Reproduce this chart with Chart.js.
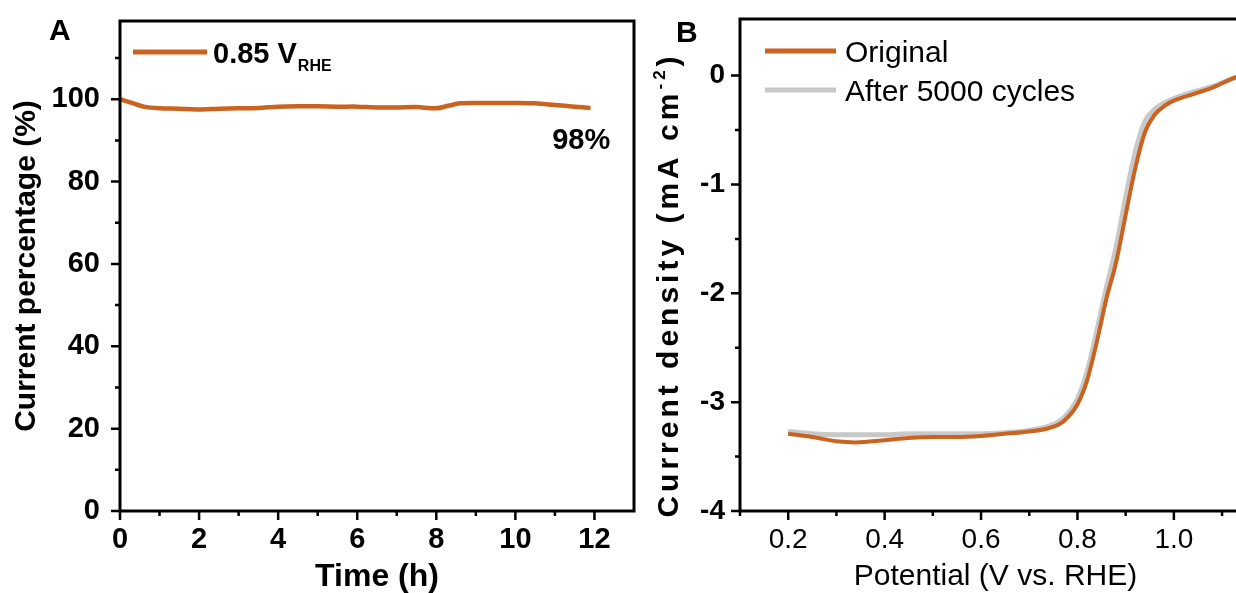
<!DOCTYPE html>
<html lang="en">
<head>
<meta charset="UTF-8">
<script src="https://cdn.jsdelivr.net/npm/chart.js"></script>
<style>
  html, body { margin: 0; padding: 0; background: #fff; overflow: hidden; width: 1236px; height: 593px; }
  .panel { position: absolute; top: 0; }
  #panelA { left: 0; }
  #panelB { left: 640px; }
</style>
</head>
<body>
<div class="panel" id="panelA"><canvas id="chartA" width="660" height="600"></canvas></div>
<div class="panel" id="panelB"><canvas id="chartB" width="620" height="600"></canvas></div>
<script>
// Panel A: chronoamperometry at 0.85 V
const timeH = [0, 0.3, 0.6, 1.0, 1.5, 2.0, 2.5, 3.0, 3.5, 4.0, 4.5, 5.0, 5.5, 6.0, 6.5, 7.0, 7.5, 8.0, 8.3, 8.6, 9.0, 9.5, 10.0, 10.5, 11.0, 11.5, 11.9];
const currentPct = [100, 99.1, 98.2, 97.8, 97.7, 97.5, 97.7, 97.8, 97.9, 98.2, 98.3, 98.3, 98.2, 98.2, 98.0, 98.0, 98.1, 97.8, 98.4, 99.0, 99.1, 99.1, 99.1, 99.0, 98.6, 98.2, 97.9];
const timeTicks = [0, 2, 4, 6, 8, 10, 12];
const percentTicks = [0, 20, 40, 60, 80, 100];
const legendA = '0.85 V';
const legendASub = 'RHE';
const endLabel = '98%';

// Panel B: LSV before / after cycling
const potentialV = [0.20, 0.25, 0.30, 0.34, 0.40, 0.45, 0.50, 0.55, 0.60, 0.65, 0.70, 0.74, 0.77, 0.80, 0.82, 0.84, 0.86, 0.88, 0.90, 0.92, 0.94, 0.96, 0.98, 1.00, 1.04, 1.08, 1.12, 1.14];
const densityOriginal = [-3.29, -3.32, -3.36, -3.37, -3.35, -3.33, -3.32, -3.32, -3.31, -3.29, -3.27, -3.24, -3.18, -3.02, -2.80, -2.45, -2.05, -1.72, -1.28, -0.85, -0.52, -0.36, -0.28, -0.23, -0.17, -0.11, -0.03, 0.0];
const densityCycled = [-3.27, -3.29, -3.30, -3.30, -3.30, -3.29, -3.29, -3.29, -3.29, -3.28, -3.26, -3.22, -3.15, -2.97, -2.72, -2.35, -1.95, -1.58, -1.12, -0.70, -0.42, -0.31, -0.25, -0.21, -0.15, -0.10, -0.03, 0.0];
const potentialTicks = [0.2, 0.4, 0.6, 0.8, 1.0];
const densityTicks = [-4, -3, -2, -1, 0];
const seriesNames = ['Original', 'After 5000 cycles'];

const orange = '#C9631F';
const gray = '#C8C8C8';
const FONT = '"Liberation Sans", Arial, sans-serif';
Chart.defaults.font.family = FONT;
Chart.defaults.color = '#000';

// box around the plot plus major / minor tick marks pointing outwards
const framePlugin = {
  id: 'frame',
  afterDraw(chart) {
    const {ctx, chartArea: a, scales: {x, y}} = chart;
    ctx.save();
    ctx.strokeStyle = '#000';
    ctx.lineWidth = 3;
    ctx.strokeRect(a.left, a.top, a.right - a.left, a.bottom - a.top);
    ctx.lineWidth = 2.5;
    const marks = (scale, draw) => {
      const vals = scale.ticks.map(t => t.value);
      const half = (vals[1] - vals[0]) / 2;
      for (let k = -2; k <= vals.length * 2 + 2; k++) {
        const v = Math.round((vals[0] + k * half) * 1000) / 1000;
        if (v < scale.min - 1e-6 || v > scale.max - 1e-6) continue;
        const p = scale.getPixelForValue(v);
        const major = k % 2 === 0;
        // skip minor marks that would sit right against the frame
        if (!major && Math.min(Math.abs(p - scale.top), Math.abs(p - scale.bottom)) < 6 && !scale.isHorizontal()) continue;
        draw(p, major ? 9 : 5);
      }
    };
    ctx.beginPath();
    marks(x, (px, len) => { ctx.moveTo(px, a.bottom); ctx.lineTo(px, a.bottom + len); });
    marks(y, (py, len) => { ctx.moveTo(a.left, py); ctx.lineTo(a.left - len, py); });
    ctx.stroke();
    ctx.restore();
  }
};

const extrasA = {
  id: 'extrasA',
  afterDraw(chart) {
    const {ctx, scales: {x, y}} = chart;
    ctx.save();
    ctx.fillStyle = '#000';
    ctx.font = 'bold 30px ' + FONT;
    ctx.fillText('A', 49, 40);
    ctx.strokeStyle = orange;
    ctx.lineWidth = 5;
    ctx.beginPath();
    ctx.moveTo(133, 52);
    ctx.lineTo(207, 52);
    ctx.stroke();
    ctx.font = 'bold 29px ' + FONT;
    ctx.fillText(legendA, 213, 63);
    const w = ctx.measureText(legendA).width;
    ctx.font = 'bold 16px ' + FONT;
    ctx.fillText(legendASub, 213 + w + 1, 71);
    ctx.font = 'bold 29px ' + FONT;
    ctx.textAlign = 'right';
    ctx.fillText(endLabel, x.getPixelForValue(12.4), y.getPixelForValue(88));
    ctx.restore();
  }
};

const extrasB = {
  id: 'extrasB',
  afterDraw(chart) {
    const {ctx} = chart;
    ctx.save();
    ctx.fillStyle = '#000';
    ctx.font = 'bold 30px ' + FONT;
    ctx.fillText('B', 36, 42);
    // legend
    [[orange, 51, seriesNames[0]], [gray, 90, seriesNames[1]]].forEach(([c, yy, t]) => {
      ctx.strokeStyle = c;
      ctx.lineWidth = 5;
      ctx.beginPath();
      ctx.moveTo(125, yy);
      ctx.lineTo(196, yy);
      ctx.stroke();
      ctx.font = '30px ' + FONT;
      ctx.fillText(t, 205, yy + 11);
    });
    // rotated y title with superscript
    ctx.translate(30, 285);
    ctx.rotate(-Math.PI / 2);
    ctx.letterSpacing = '4px';
    const main = 'Current density (mA cm';
    ctx.font = 'bold 30px ' + FONT;
    const w1 = ctx.measureText(main).width;
    const w3 = ctx.measureText(')').width;
    ctx.font = 'bold 17px ' + FONT;
    const w2 = ctx.measureText('-2').width;
    let x0 = -(w1 + w2 + w3) / 2;
    ctx.textBaseline = 'middle';
    ctx.font = 'bold 30px ' + FONT;
    ctx.fillText(main, x0, 0);
    ctx.font = 'bold 17px ' + FONT;
    ctx.fillText('-2', x0 + w1, -10);
    ctx.font = 'bold 30px ' + FONT;
    ctx.fillText(')', x0 + w1 + w2, 0);
    ctx.restore();
  }
};

// fixed axis box sizes, no extra label overflow padding
const fitX = s => { s.height = 89; s.paddingLeft = 0; s.paddingRight = 0; };
const fitY = w => s => { s.width = w; s.paddingTop = 0; s.paddingBottom = 0; };

new Chart(document.getElementById('chartA'), {
  type: 'line',
  data: {
    datasets: [{
      label: legendA + ' ' + legendASub,
      data: timeH.map((t, i) => ({x: t, y: currentPct[i]})),
      borderColor: orange,
      borderWidth: 4.5,
      pointRadius: 0,
      tension: 0.3
    }]
  },
  options: {
    responsive: false,
    animation: false,
    layout: {padding: {top: 21, right: 26, left: 0, bottom: 0}},
    plugins: {legend: {display: false}, tooltip: {enabled: false}},
    scales: {
      x: {
        type: 'linear', min: 0, max: 13,
        afterBuildTicks: s => { s.ticks = timeTicks.map(v => ({value: v})); },
        afterFit: fitX,
        grid: {display: false, drawTicks: false},
        border: {display: false},
        ticks: {padding: 12, maxRotation: 0, autoSkip: false, font: {size: 29, weight: 'bold'}},
        title: {display: true, text: 'Time (h)', font: {size: 32, weight: 'bold'}, padding: {top: 0, bottom: 4}}
      },
      y: {
        min: 0, max: 119,
        afterBuildTicks: s => { s.ticks = percentTicks.map(v => ({value: v})); },
        afterFit: fitY(120),
        grid: {display: false, drawTicks: false},
        border: {display: false},
        ticks: {padding: 20, font: {size: 29, weight: 'bold'}},
        title: {display: true, text: 'Current percentage (%)', font: {size: 30, weight: 'bold'}, padding: {top: 9, bottom: 0}}
      }
    }
  },
  plugins: [framePlugin, extrasA]
});

new Chart(document.getElementById('chartB'), {
  type: 'line',
  data: {
    datasets: [{
      label: seriesNames[0],
      data: potentialV.map((v, i) => ({x: v, y: densityOriginal[i]})),
      borderColor: orange,
      borderWidth: 4,
      pointRadius: 0,
      cubicInterpolationMode: 'monotone'
    }, {
      label: seriesNames[1],
      data: potentialV.map((v, i) => ({x: v, y: densityCycled[i]})),
      borderColor: gray,
      borderWidth: 5,
      pointRadius: 0,
      cubicInterpolationMode: 'monotone'
    }]
  },
  options: {
    responsive: false,
    animation: false,
    layout: {padding: {top: 19, right: 9, left: 0, bottom: 0}},
    plugins: {legend: {display: false}, tooltip: {enabled: false}},
    scales: {
      x: {
        type: 'linear', min: 0.1, max: 1.16,
        afterBuildTicks: s => { s.ticks = potentialTicks.map(v => ({value: v})); },
        afterFit: fitX,
        grid: {display: false, drawTicks: false},
        border: {display: false},
        ticks: {padding: 12, maxRotation: 0, autoSkip: false, font: {size: 28}, callback: v => v.toFixed(1)},
        title: {display: true, text: 'Potential (V vs. RHE)', font: {size: 30}, padding: {top: 0, bottom: 5}}
      },
      y: {
        min: -4, max: 0.52,
        afterBuildTicks: s => { s.ticks = densityTicks.map(v => ({value: v})); },
        afterFit: fitY(100),
        grid: {display: false, drawTicks: false},
        border: {display: false},
        ticks: {padding: 15, font: {size: 28, weight: 'bold'}},
        title: {display: false}
      }
    }
  },
  plugins: [framePlugin, extrasB]
});
</script>
</body>
</html>
